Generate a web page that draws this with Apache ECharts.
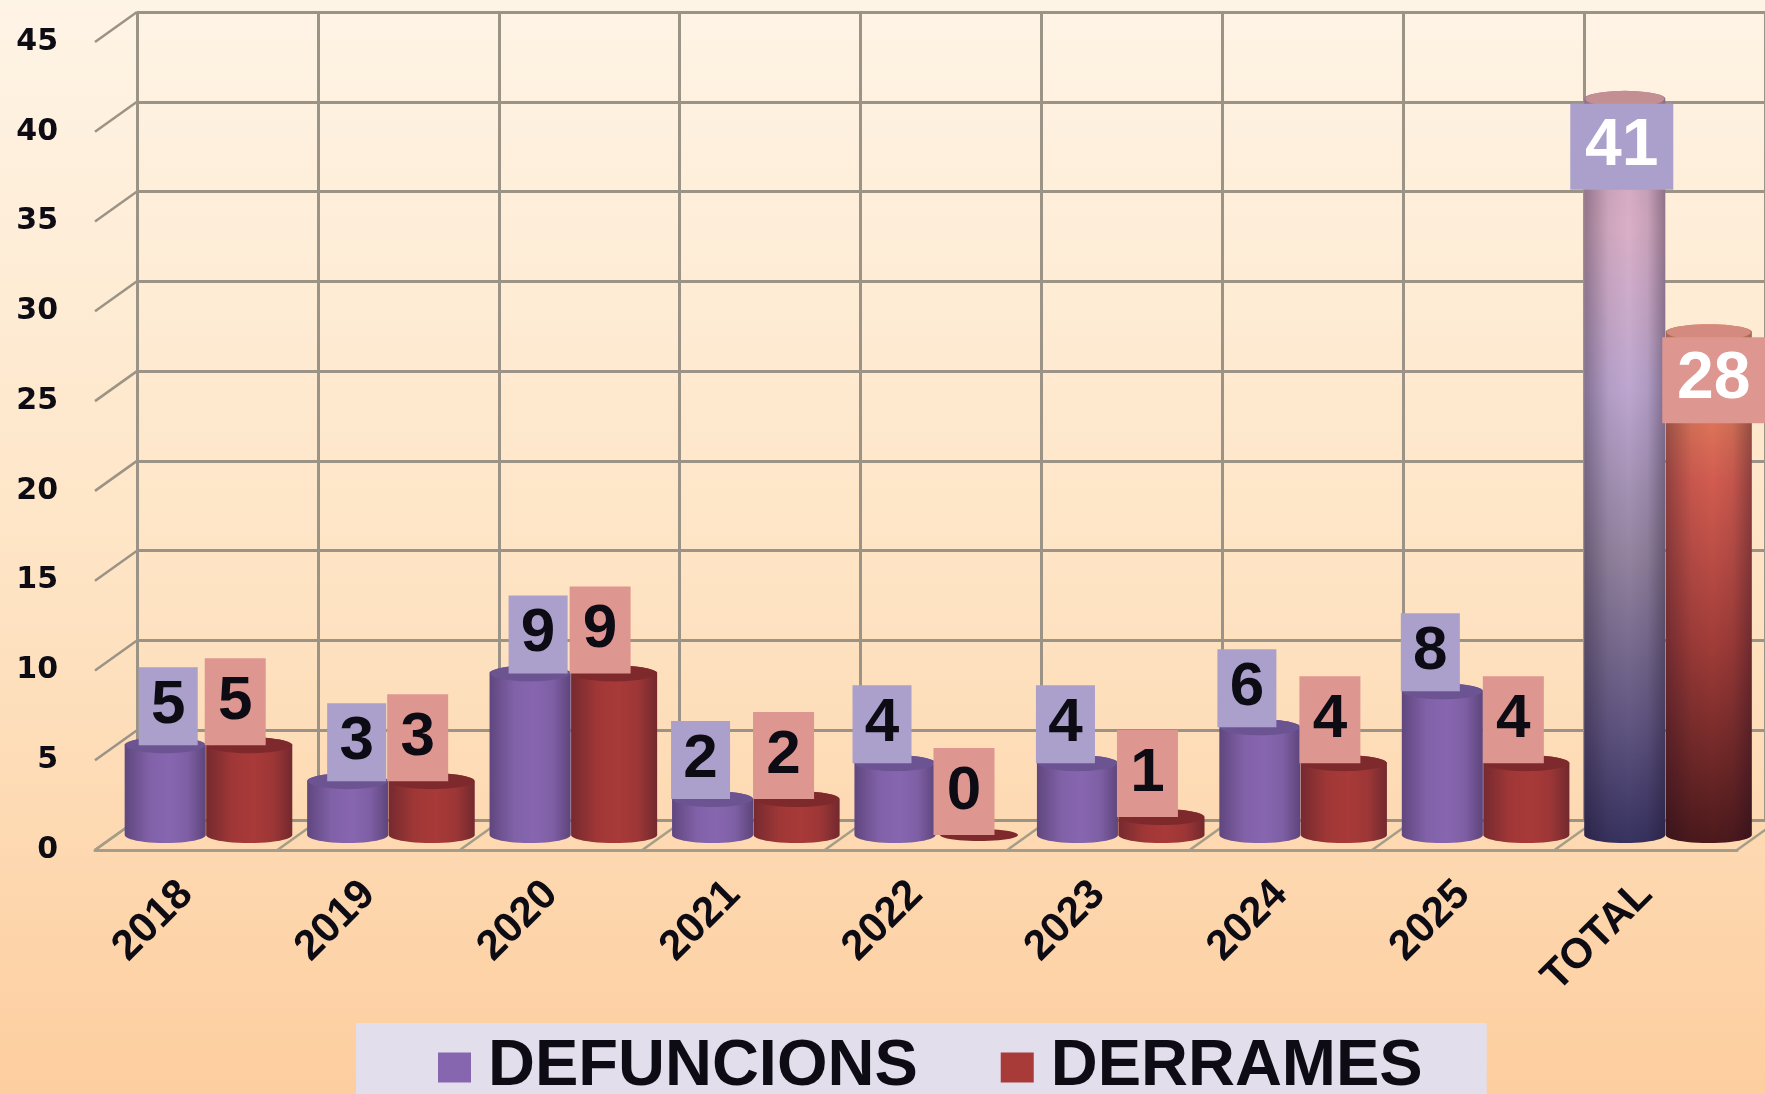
<!DOCTYPE html>
<html>
<head>
<meta charset="UTF-8">
<title>Defuncions i derrames</title>
<script src="https://cdn.jsdelivr.net/npm/echarts@6/dist/echarts.min.js"></script>
<style>
html,body{margin:0;padding:0;overflow:hidden}
#chart{width:1765px;height:1094px}
</style>
</head>
<body>
<div id="chart"></div>
<script type="text/javascript">
var categories=['2018','2019','2020','2021','2022','2023','2024','2025','TOTAL'];
var defuncions=[5,3,9,2,4,4,6,8,41];
var derrames=[5,3,9,2,0,1,4,4,28];
var yTicks=[0,5,10,15,20,25,30,35,40,45];

var chart=echarts.init(document.getElementById('chart'));
var FONT='"Liberation Sans",Arial,sans-serif';
var GRID='#9b9385';
var DX=42,DY=30; // depth of the fake 3d box

// ellipse + body outline of a cylinder, as polygon points
function cylPoints(cx,top,bottom,rx,ry){
	var pts=[],i,a;
	for(i=0;i<=24;i++){
		a=Math.PI*i/24;
		pts.push([cx-rx*Math.cos(a),top-ry*Math.sin(a)]);
	}
	for(i=0;i<=24;i++){
		a=Math.PI*i/24;
		pts.push([cx+rx*Math.cos(a),bottom+ry*Math.sin(a)]);
	}
	return pts;
}
function ellPoints(cx,cy,rx,ry){
	var pts=[],i,a;
	for(i=0;i<48;i++){
		a=2*Math.PI*i/48;
		pts.push([cx+rx*Math.cos(a),cy+ry*Math.sin(a)]);
	}
	return pts;
}
function vGrad(stops){
	return {type:'linear',x:0,y:0,x2:0,y2:1,colorStops:stops.map(function(s){return {offset:s[0],color:s[1]};})};
}
var shade={type:'linear',x:0,y:0,x2:1,y2:0,colorStops:[
	{offset:0,color:'rgba(20,10,30,0.34)'},
	{offset:0.3,color:'rgba(20,10,30,0.06)'},
	{offset:0.55,color:'rgba(20,10,30,0)'},
	{offset:0.78,color:'rgba(20,10,30,0.08)'},
	{offset:1,color:'rgba(20,10,30,0.36)'}
]};

var looks={
	DEFUNCIONS:{offset:-42,rx:40.5,body:'#8766b0',top:'#6c5492',box:'#ab9fcb',boxH:78,boxW:59,
		totalBody:[[0,'#c9a2bd'],[0.18,'#d9afc6'],[0.4,'#bca6d0'],[0.62,'#93839f'],[0.85,'#5f5480'],[1,'#37325f']],
		totalTop:'#c38f92',totalShift:-3},
	DERRAMES:{offset:42,rx:43,body:'#a83a38',top:'#7e2a2c',box:'#de9690',boxH:87,boxW:61,
		totalBody:[[0,'#ee9c68'],[0.3,'#d25c50'],[0.62,'#a03c38'],[1,'#4c191b']],
		totalTop:'#d58a80',totalShift:5}
};
// the source picture has a few value boxes pushed sideways
var boxShift={DEFUNCIONS:[3,9,8,-12,-13,-12,-13,-12],DERRAMES:[-14,-14,-14,-13,-15,-14,-14,-13]};

function cylinderItem(name){
	var look=looks[name];
	return function(params,api){
		var i=api.value(0),v=api.value(1);
		var base=api.coord([i,0]);
		var head=api.coord([i,v]);
		var cx=base[0]+DX/2+look.offset;
		var bottom=base[1]-DY/2;
		var top=head[1]-DY/2;
		var isTotal=categories[i]==='TOTAL';
		var ry=v===0?6:8;
		var pts=cylPoints(cx,top,bottom,look.rx,ry);
		var kids=[];
		if(v>0){
			kids.push({type:'polygon',shape:{points:pts},style:{fill:isTotal?vGrad(look.totalBody):look.body}});
			kids.push({type:'polygon',shape:{points:pts},style:{fill:shade}});
		}
		kids.push({type:'polygon',shape:{points:ellPoints(cx,top,look.rx-(v===0?4:1),ry)},
			style:{fill:isTotal?look.totalTop:look.top}});
		var bx,by,bw,bh,fs,col;
		if(isTotal){
			bw=103;bh=86;
			bx=cx+look.totalShift-bw/2;by=top+5;fs=66;col='#fff';
		}else{
			bw=look.boxW;bh=look.boxH;
			bx=cx+boxShift[name][i]-bw/2;by=top-bh;fs=62;col='#0d0b14';
		}
		kids.push({type:'rect',shape:{x:bx,y:by,width:bw,height:bh},style:{fill:look.box}});
		kids.push({type:'text',style:{text:String(v),x:bx+bw/2,y:by+bh/2,align:'center',verticalAlign:'middle',
			font:'bold '+fs+'px '+FONT,fill:col}});
		return {type:'group',children:kids};
	};
}
function pairs(vals){
	return vals.map(function(v,i){return [i,v];});
}

var option={
	animation:false,
	backgroundColor:vGrad([[0,'#fef4e6'],[0.5,'#fee5c6'],[1,'#fdce9f']]),
	grid:[
		{left:95,top:42,width:1642,height:808},
		{left:137,top:12,width:1642,height:808}
	],
	xAxis:[
		{type:'category',gridIndex:0,data:categories,
			axisLine:{lineStyle:{color:'#a69d88',width:3}},axisTick:{show:false},
			axisLabel:{interval:0,rotate:45,margin:38,color:'#0d0b14',font:'bold 42px '+FONT,fontFamily:FONT,fontWeight:'bold',fontSize:42}},
		{type:'category',gridIndex:1,data:categories,
			axisLine:{lineStyle:{color:GRID,width:3}},axisTick:{show:false},axisLabel:{show:false},
			splitLine:{show:true,interval:0,lineStyle:{color:GRID,width:3}}}
	],
	yAxis:[
		{type:'value',gridIndex:0,min:0,max:45,interval:5,
			axisLine:{show:false},axisTick:{show:false},splitLine:{show:false},
			axisLabel:{margin:37,color:'#0d0b14',fontFamily:'"DejaVu Sans"',fontWeight:'bold',fontSize:30}},
		{type:'value',gridIndex:1,min:0,max:45,interval:5,
			axisLine:{show:false},axisTick:{show:false},axisLabel:{show:false},
			splitLine:{show:true,lineStyle:{color:GRID,width:3}}}
	],
	legend:{
		left:356,top:1023,
		data:[{name:'DEFUNCIONS',icon:'rect'},{name:'DERRAMES',icon:'rect'}],
		orient:'horizontal',
		backgroundColor:'#e2deec',
		borderRadius:0,
		padding:[12,64,12,82],
		itemWidth:33,itemHeight:30,itemGap:83,
		selectedMode:false,
		textStyle:{color:'#0d0b14',fontFamily:FONT,fontWeight:'bold',fontSize:65,padding:[0,0,0,12]}
	},
	series:[
		{type:'custom',name:'walltick',silent:true,coordinateSystem:'cartesian2d',xAxisIndex:0,yAxisIndex:0,
			data:yTicks.map(function(v){return [0,v];}),encode:{x:0,y:1},
			renderItem:function(params,api){
				var p=api.coord([0,api.value(1)]);
				var x=p[0]-api.size([1,0])[0]/2;
				return {type:'line',shape:{x1:x,y1:p[1],x2:x+DX,y2:p[1]-DY},style:{stroke:GRID,lineWidth:2.5}};
			}},
		{type:'custom',name:'floortick',silent:true,coordinateSystem:'cartesian2d',xAxisIndex:0,yAxisIndex:0,
			data:categories.concat(['']).map(function(c,i){return [0,i];}),encode:{x:0},
			renderItem:function(params,api){
				var p=api.coord([0,0]);
				var band=api.size([1,0])[0];
				var x=p[0]-band/2+band*params.dataIndex;
				return {type:'line',shape:{x1:x,y1:p[1],x2:x+DX,y2:p[1]-DY},style:{stroke:'#a69d88',lineWidth:2.5}};
			}},
		{type:'custom',name:'DEFUNCIONS',xAxisIndex:0,yAxisIndex:0,itemStyle:{color:'#8766b0'},
			data:pairs(defuncions),encode:{x:0,y:1},renderItem:cylinderItem('DEFUNCIONS')},
		{type:'custom',name:'DERRAMES',xAxisIndex:0,yAxisIndex:0,itemStyle:{color:'#a83a38'},
			data:pairs(derrames),encode:{x:0,y:1},renderItem:cylinderItem('DERRAMES')}
	]
};
chart.setOption(option);
</script>
</body>
</html>
